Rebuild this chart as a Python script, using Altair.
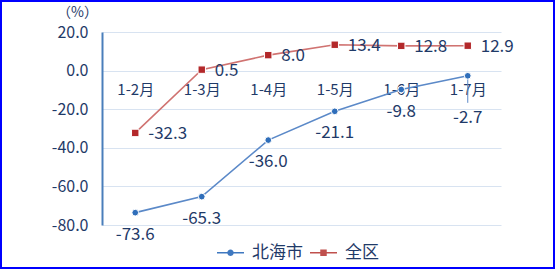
import altair as alt
import pandas as pd

periods = ["1-2月", "1-3月", "1-4月", "1-5月", "1-6月", "1-7月"]
beihai = [-73.6, -65.3, -36.0, -21.1, -9.8, -2.7]
quanqu = [-32.3, 0.5, 8.0, 13.4, 12.8, 12.9]
series_names = ["北海市", "全区"]
y_ticks = [-80, -60, -40, -20, 0, 20]

rows = []
for i, p in enumerate(periods):
    rows.append({"period": p, "series": series_names[0], "value": beihai[i], "last": i == len(periods) - 1})
    rows.append({"period": p, "series": series_names[1], "value": quanqu[i], "last": i == len(periods) - 1})
df = pd.DataFrame(rows)

NAVY = "#1F3A68"
BLUE_LINE = "#5B89C8"
BLUE_PT = "#2F6EBA"
RED_LINE = "#D07371"
RED_PT = "#B3282A"
FONT = "Noto Sans CJK SC"
FMT = "replace(format(datum.value, '.1f'), '\u2212', '-')"

x_enc = alt.X("period:N", sort=periods,
              scale=alt.Scale(type="point", padding=0.5),
              axis=alt.Axis(orient="bottom", offset=-154, domain=False, ticks=False,
                            labelPadding=11, labelAngle=0, labelFontSize=15,
                            labelColor=NAVY, labelFont=FONT, title=None, grid=False))
y_scale = alt.Scale(domain=[-80, 20], nice=False, zero=False)
y_enc = alt.Y("value:Q", scale=y_scale,
              axis=alt.Axis(values=y_ticks, labelExpr=FMT, grid=True, gridColor="#D8E3F1",
                            gridWidth=1, domainColor="#4A7EBB", domainWidth=2, ticks=False,
                            labelOverlap=False, labelBound=False,
                            labelPadding=14, labelFontSize=16, labelColor=NAVY, labelFont=FONT,
                            title="（%）", titleAngle=0, titleX=-25, titleY=-20,
                            titleAlign="center", titleBaseline="middle", titleFontSize=14,
                            titleFontWeight="normal", titleColor=NAVY, titleFont=FONT))

base = alt.Chart(df).transform_calculate(label=FMT)

bh = base.transform_filter(alt.datum.series == series_names[0])
qq = base.transform_filter(alt.datum.series == series_names[1])

line_bh = bh.mark_line(color=BLUE_LINE, strokeWidth=1.6).encode(x=x_enc, y=y_enc)
line_qq = qq.mark_line(color=RED_LINE, strokeWidth=1.6).encode(x=x_enc, y=y_enc)

pt_bh = bh.mark_point(shape="circle", filled=True, fill=BLUE_PT, stroke="white",
                      strokeWidth=1, size=45, opacity=1).encode(x=x_enc, y=y_enc)
pt_qq = qq.mark_point(shape="square", filled=True, fill=RED_PT, stroke="white",
                      strokeWidth=1, size=55, opacity=1).encode(x=x_enc, y=y_enc)

txt_qq = qq.mark_text(align="left", baseline="middle", dx=13, dy=1, fontSize=17,
                      font=FONT, color=NAVY).encode(x=x_enc, y=y_enc, text="label:N")
txt_bh = bh.transform_filter(~alt.datum.last).mark_text(
    align="center", baseline="middle", dy=22, fontSize=17, font=FONT, color=NAVY
).encode(x=x_enc, y=y_enc, text="label:N")
txt_bh_last = bh.transform_filter(alt.datum.last).mark_text(
    align="center", baseline="middle", dy=42, fontSize=17, font=FONT, color=NAVY
).encode(x=x_enc, y=y_enc, text="label:N")
leader = bh.transform_filter(alt.datum.last).transform_calculate(
    end="datum.value - 14"
).mark_rule(color=BLUE_LINE, strokeWidth=1).encode(x=x_enc, y=y_enc, y2="end:Q")

blue_path = ("M-1,-0.05L1,-0.05L1,0.05L-1,0.05Z"
             "M0.24,0A0.24,0.24,0,1,1,-0.24,0A0.24,0.24,0,1,1,0.24,0Z")
red_path = ("M-1,-0.05L1,-0.05L1,0.05L-1,0.05Z"
            "M-0.24,-0.24L0.24,-0.24L0.24,0.24L-0.24,0.24Z")
legend_layer = base.mark_point(filled=True, opacity=0).encode(
    x=x_enc, y=y_enc,
    color=alt.Color("series:N", sort=series_names,
                    scale=alt.Scale(domain=series_names, range=["#3F78C0", "#C0504D"]),
                    legend=alt.Legend(orient="none", legendX=115, legendY=207,
                                      direction="horizontal", title=None,
                                      symbolOpacity=1, symbolSize=729, symbolStrokeWidth=0,
                                      labelFontSize=17, labelColor=NAVY, labelFont=FONT,
                                      labelOffset=8, columnPadding=7)),
    shape=alt.Shape("series:N", sort=series_names,
                    scale=alt.Scale(domain=series_names, range=[blue_path, red_path]),
                    legend=None),
)

border = alt.Chart(pd.DataFrame({"k": [0]})).mark_rect(
    fill=None, stroke="#0000FF", strokeWidth=2
).encode(x=alt.value(-101), x2=alt.value(452), y=alt.value(-31), y2=alt.value(236))

chart = alt.layer(
    line_qq, line_bh, leader, pt_qq, pt_bh, txt_qq, txt_bh, txt_bh_last, legend_layer, border
).properties(
    width=399, height=193,
    autosize=alt.AutoSizeParams(type="none"),
    padding={"left": 102, "top": 32, "right": 54, "bottom": 44},
    background="white",
).configure_view(stroke=None)

chart.save("out.html", embed_options={"renderer": "svg", "actions": False})
